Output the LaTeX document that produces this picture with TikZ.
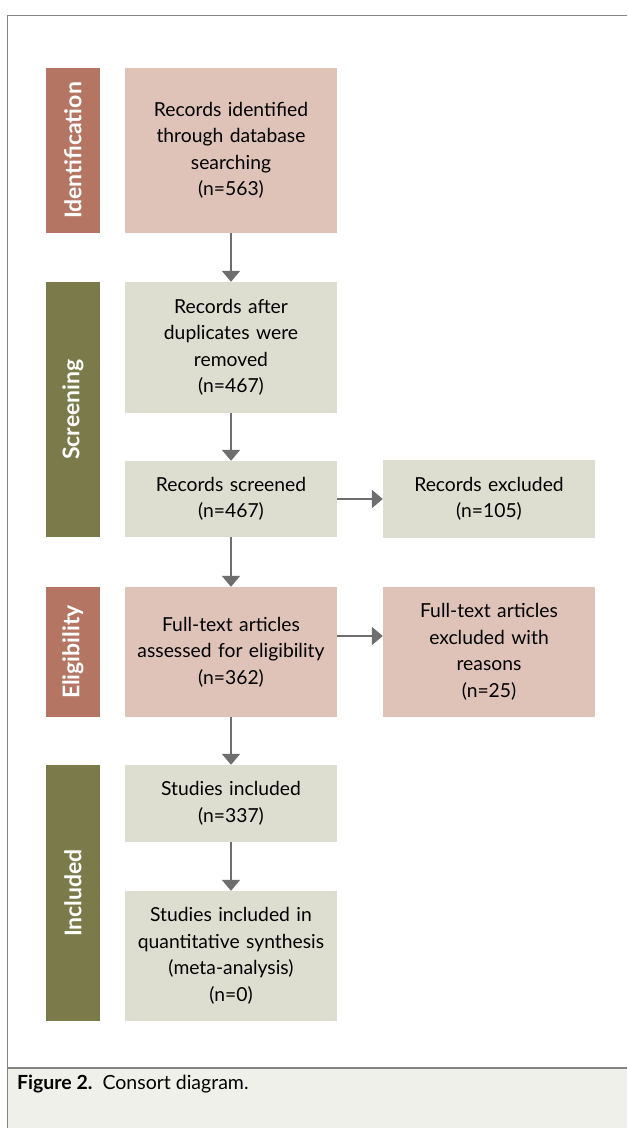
\documentclass[tikz,border=0pt]{standalone}
\usepackage{fontspec}
\setmainfont{Lato}
\usetikzlibrary{arrows.meta}
\definecolor{pinkbox}{HTML}{DFC2B8}
\definecolor{greenbox}{HTML}{DEDED0}
\definecolor{redside}{HTML}{B47562}
\definecolor{oliveside}{HTML}{7A7A4A}
\definecolor{arrowgray}{HTML}{6E6E6E}
\definecolor{framegray}{HTML}{858585}
\definecolor{capbg}{HTML}{F0F0EB}
\tikzset{
  boxbase/.style={inner sep=0pt, align=center, text width=205pt, font=\fontsize{19.3}{26.5}\selectfont},
  pinkb/.style={boxbase, fill=pinkbox},
  greenb/.style={boxbase, fill=greenbox},
  sidebase/.style={inner sep=0pt, minimum height=54pt, rotate=90, text=white, font=\fontsize{23}{26}\selectfont\bfseries},
  redlab/.style={sidebase, fill=redside},
  olivelab/.style={sidebase, fill=oliveside},
  flow/.style={draw=arrowgray, line width=2pt, -{Triangle[length=11pt,width=18pt]}},
}
\begin{document}
\begin{tikzpicture}[x=1pt,y=1pt]
\useasboundingbox (0,0) rectangle (627,-1128);
\fill[white] (0,0) rectangle (627,-1128);
% caption band
\fill[capbg] (7.5,-1068) rectangle (627,-1128);
\draw[framegray, line width=1.3pt] (7.5,-1128) -- (7.5,-15.5) -- (627,-15.5);
\draw[framegray, line width=1.3pt] (7.5,-1068) -- (627,-1068);
\node[anchor=base west, inner sep=0pt, font=\fontsize{19.5}{22}\selectfont] (cap) at (17,-1089) {\textbf{Figure 2.}\ \ Consort diagram.};
% side labels
\node[redlab, minimum width=165pt] (lid) at (73,-150.5) {Identification};
\node[olivelab, minimum width=255pt] (lsc) at (73,-409.5) {Screening};
\node[redlab, minimum width=130pt] (lel) at (73,-652) {Eligibility};
\node[olivelab, minimum width=256pt] (lin) at (73,-893) {Included};
% boxes
\node[pinkb, minimum width=212pt, minimum height=165pt] (b1) at (231,-150.5) {Records identified\\through database\\searching\\(n=563)};
\node[greenb, minimum width=212pt, minimum height=131pt] (b2) at (231,-347.5) {Records after\\duplicates were\\removed\\(n=467)};
\node[greenb, minimum width=212pt, minimum height=76pt] (b3) at (231,-499) {Records screened\\(n=467)};
\node[greenb, minimum width=212pt, minimum height=78pt] (x1) at (489,-499) {Records excluded\\(n=105)};
\node[pinkb, minimum width=212pt, minimum height=130pt] (b4) at (231,-652) {Full-text articles\\assessed for eligibility\\(n=362)};
\node[pinkb, minimum width=212pt, minimum height=130pt] (x2) at (489,-652) {Full-text articles\\excluded with\\reasons\\(n=25)};
\node[greenb, minimum width=212pt, minimum height=77pt] (b5) at (231,-803.5) {Studies included\\(n=337)};
\node[greenb, minimum width=212pt, minimum height=130pt] (b6) at (231,-956) {Studies included in\\quantitative synthesis\\(meta-analysis)\\(n=0)};
\coordinate (a2) at (337,-636);
% arrows
\draw[flow] (b1.south) -- (b2.north);
\draw[flow] (b2.south) -- (b3.north);
\draw[flow] (b3.south) -- (b4.north);
\draw[flow] (b4.south) -- (b5.north);
\draw[flow] (b5.south) -- (b6.north);
\draw[flow] (b3.east) -- (x1.west);
\draw[flow] (b4.east |- a2) -- (x2.west |- a2);
\end{tikzpicture}
\end{document}
